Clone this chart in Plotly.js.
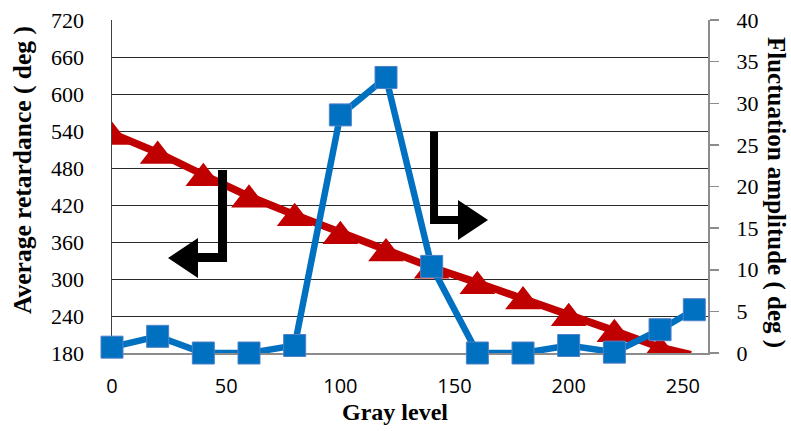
<!DOCTYPE html>
<html>
<head>
<meta charset="utf-8">
<script src="https://cdn.plot.ly/plotly-3.0.1.min.js"></script>
<style>html,body{margin:0;padding:0;background:#fff;}#chart{width:791px;height:431px;}</style>
</head>
<body>
<div id="chart"></div>
<script>
// ---- data ----
const grayLevel = [0, 20, 40, 60, 80, 100, 120, 140, 160, 180, 200, 220, 240, 255];
const retardance = [536, 505, 469, 434, 404, 375, 347, 319, 294, 269, 242, 216, 189, 176];
const fluctuation = [0.7, 2.0, 0, 0, 0.9, 28.6, 33.1, 10.4, 0, 0, 0.9, 0.1, 2.8, 5.2];
const xTicks = [0, 50, 100, 150, 200, 250];
const leftTicks = [180, 240, 300, 360, 420, 480, 540, 600, 660, 720];
const rightTicks = [0, 5, 10, 15, 20, 25, 30, 35, 40];

// ---- layout geometry ----
const W = 791, H = 431;
const M = {l: 112, r: 83, t: 20, b: 78};
const pw = W - M.l - M.r, ph = H - M.t - M.b;
const px = x => (x - M.l) / pw;
const py = y => (H - M.b - y) / ph;
const path = pts => 'M' + pts.map(p => px(p[0]).toFixed(4) + ',' + py(p[1]).toFixed(4)).join('L') + 'Z';

const serif = '"Liberation Serif", "Times New Roman", serif';
const sans = '"Open Sans", "Liberation Sans", sans-serif';
const leftMin = leftTicks[0], leftMax = leftTicks[leftTicks.length - 1];

const triSize = 31;
const red = {
  x: grayLevel, y: retardance, yaxis: 'y', type: 'scatter', mode: 'lines+markers',
  line: {color: '#C00000', width: 7.5},
  marker: {symbol: 'triangle-up', color: '#C00000', opacity: 1, line: {width: 0},
           standoff: 3.5,
           size: retardance.map(v => v < leftMin ? 0 : triSize)},
  cliponaxis: true, showlegend: false, hoverinfo: 'skip'
};
const blue = {
  x: grayLevel, y: fluctuation, yaxis: 'y2', type: 'scatter', mode: 'lines+markers',
  line: {color: '#0070C0', width: 6.5},
  marker: {symbol: 'square', color: '#0070C0', opacity: 1, size: 22, line: {color: '#4F81C8', width: 1}},
  cliponaxis: false, showlegend: false, hoverinfo: 'skip'
};

const leftArrow = [[218,170],[227,170],[227,262],[198,262],[198,278],[168,258],[198,238],[198,253],[218,253]];
const rightArrow = [[430,132],[438,132],[438,216],[458,216],[458,200],[488,220],[458,240],[458,224],[430,224]];

const layout = {
  width: W, height: H, margin: M,
  paper_bgcolor: '#fff', plot_bgcolor: '#fff',
  showlegend: false,
  xaxis: {
    range: [0, 261], tickvals: xTicks, ticktext: xTicks.map(String),
    showline: true, linecolor: '#8c8c8c', linewidth: 2, showgrid: false, zeroline: false,
    ticks: '', tickfont: {family: sans, size: 20, color: '#000'}, ticklabelstandoff: 14,
    layer: 'below traces', fixedrange: true
  },
  yaxis: {
    range: [leftMin, leftMax], tickvals: leftTicks, ticktext: leftTicks.map(String),
    showline: true, linecolor: '#404040', linewidth: 1.5,
    showgrid: true, gridcolor: '#2a2a2a', gridwidth: 1, zeroline: false,
    ticks: '', tickfont: {family: serif, size: 22, color: '#000'}, ticklabelstandoff: 22,
    layer: 'below traces', fixedrange: true
  },
  yaxis2: {
    overlaying: 'y', side: 'right', range: [0, 40], tickvals: rightTicks, ticktext: rightTicks.map(String),
    showline: true, linecolor: '#8c8c8c', linewidth: 2, showgrid: false, zeroline: false,
    ticks: 'outside', ticklen: 9, tickwidth: 1.5, tickcolor: '#8c8c8c',
    tickfont: {family: serif, size: 22, color: '#000'}, ticklabelstandoff: 13,
    layer: 'below traces', fixedrange: true
  },
  shapes: [
    {type: 'path', xref: 'paper', yref: 'paper', path: path(leftArrow), fillcolor: '#000', line: {width: 0}},
    {type: 'path', xref: 'paper', yref: 'paper', path: path(rightArrow), fillcolor: '#000', line: {width: 0}}
  ],
  annotations: [
    {text: '<b>Gray level</b>', xref: 'paper', yref: 'paper', x: px(395), y: py(412),
     showarrow: false, xanchor: 'center', yanchor: 'middle', font: {family: serif, size: 24, color: '#000'}},
    {text: '<b>Average retardance ( deg )</b>', xref: 'paper', yref: 'paper', x: px(23), y: py(170),
     showarrow: false, textangle: -90, xanchor: 'center', yanchor: 'middle', font: {family: serif, size: 25.5, color: '#000'}},
    {text: '<b>Fluctuation amplitude ( deg )</b>', xref: 'paper', yref: 'paper', x: px(776), y: py(192),
     showarrow: false, textangle: 90, xanchor: 'center', yanchor: 'middle', font: {family: serif, size: 25, color: '#000'}}
  ]
};

Plotly.newPlot('chart', [red, blue], layout, {staticPlot: true, displayModeBar: false});
</script>
</body>
</html>
